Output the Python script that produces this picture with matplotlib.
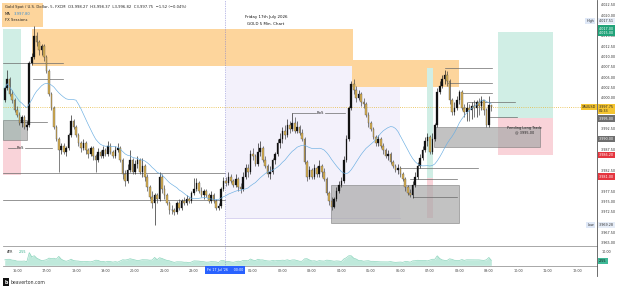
import numpy as np
import pandas as pd
import matplotlib
matplotlib.use("Agg")
import matplotlib.pyplot as plt
from matplotlib.patches import Rectangle
from matplotlib.lines import Line2D

# --- 5 dakikalık XAUUSD mumları (bar 0 = 16:00, 22:00-23:00 arası piyasa kapalı) ---
bar_start = -5
first_open = 3999.5
closes = [
    4002.4, 4004.5, 4001, 3999.5, 3997, 3996, 3994, 3995.5, 3993, 3993.5,
    4008.5, 4010, 4015, 4013.5, 4011.5, 4012.5, 4010, 4006.5, 4001, 3997.5,
    3993, 3990, 3987.5, 3988.5, 3987, 3988, 3991, 3994.5, 3993, 3991,
    3989, 3988, 3989, 3987.5, 3986.5, 3988, 3986, 3985, 3987, 3986,
    3987.5, 3986.5, 3988.5, 3987, 3986, 3987.5, 3988, 3985, 3981.5, 3980,
    3982.5, 3985, 3982, 3984, 3985, 3982, 3983.5, 3981, 3978.5, 3976,
    3974.5, 3976.5, 3975.5, 3981, 3978, 3976.5, 3974.5, 3973, 3972.8, 3972.5,
    3974.5, 3973.5, 3975, 3974.5, 3975.5, 3975, 3977, 3978, 3979.5, 3977.5,
    3976.5, 3977.5, 3976.5, 3975, 3976.5, 3975, 3973.5, 3973.8, 3978, 3980,
    3979.5, 3981, 3980, 3979, 3980.5, 3978.5, 3978, 3981, 3983, 3982,
    3986.5, 3986, 3984, 3987, 3988, 3985, 3983.5, 3981.5, 3982, 3985,
    3986.5, 3989, 3990, 3992, 3991, 3993.5, 3992.5, 3994, 3992, 3993,
    3991.5, 3990, 3984.5, 3981, 3982.5, 3981, 3983, 3981.5, 3983.5, 3982,
    3980.5, 3977, 3975, 3973.6, 3975.5, 3977.5, 3979, 3980, 3985, 3990,
    3997.5, 4003.5, 4002, 4000, 4001, 3999, 3998.5, 3996, 3994, 3992.5,
    3990.5, 3989, 3990, 3988.5, 3987.5, 3986, 3986.5, 3984.5, 3983.5, 3982.5,
    3983, 3981.5, 3980.5, 3978.5, 3977, 3976.5, 3979, 3981, 3983.5, 3985.5,
    3987.5, 3989.5, 3990.5, 3987, 3990, 3993.5, 4001.5, 4003, 4004.5, 4005.5,
    4004, 3999.5, 3996.5, 3997.5, 3999.5, 4001.5, 3997.5, 3996.5, 3997.5, 3997,
    3998, 3997.5, 3999, 3998, 3999.5, 3997, 3993.5, 3998.27, 3997.75,
]
highs = [
    4003, 4006.8, 4005, 4002, 4000, 3998, 3996.5, 3996, 3995.8, 3994.5,
    4009, 4011, 4017.51, 4016, 4014, 4013, 4013, 4010.5, 4007, 4001.5,
    3998, 3993.5, 3990.5, 3989, 3989, 3988.5, 3991.5, 3996, 3995, 3993.5,
    3991.5, 3989.5, 3990, 3989.5, 3988, 3988.5, 3988.5, 3986.5, 3988, 3987.5,
    3988.5, 3988, 3989.5, 3989, 3987.5, 3988.5, 3989, 3988.5, 3985.5, 3982.5,
    3984, 3987.5, 3985.5, 3985, 3986, 3985.5, 3985.5, 3984, 3981.5, 3979,
    3977.5, 3977, 3977, 3982, 3981.5, 3979, 3977, 3975, 3974, 3973.5,
    3975, 3975.5, 3975.5, 3976, 3976.5, 3976, 3977.5, 3980.6, 3980.6, 3980,
    3978.5, 3978, 3978, 3977, 3977.5, 3977, 3975.5, 3974.5, 3978.5, 3981,
    3981, 3982, 3981.5, 3980.5, 3981.5, 3981, 3979.5, 3982, 3984, 3984,
    3987.5, 3988, 3986.5, 3989, 3989.5, 3988.5, 3986, 3984, 3983.5, 3985.5,
    3987, 3990, 3991.5, 3993, 3993.5, 3995, 3994.5, 3996.4, 3995.5, 3994.5,
    3993.5, 3992.5, 3990.5, 3985, 3983.5, 3983, 3984, 3983.5, 3985, 3984,
    3983, 3981, 3977.5, 3976, 3976, 3978.5, 3980, 3981, 3986, 3991,
    3998, 4004, 4004.5, 4003, 4002, 4001.5, 4000, 3999, 3996.5, 3994.5,
    3993, 3991, 3991, 3990.5, 3989, 3988, 3987.5, 3987, 3985, 3984,
    3984, 3983.5, 3982, 3981, 3979, 3978, 3980, 3982, 3984.5, 3986.5,
    3988.5, 3990.5, 3991.5, 3991, 3991.5, 3994, 4002.5, 4004, 4005.5, 4006.8,
    4006.5, 4004.5, 4000, 3999, 4000.5, 4002, 4002, 3998.5, 3999, 3998.5,
    3999, 3999.5, 3999.5, 4000, 4000.5, 3999.5, 3997.5, 4000.5, 3998.37,
]
lows = [
    3999, 4002, 4000.5, 3998.8, 3996.5, 3995.5, 3993.5, 3993, 3992.5, 3992.3,
    3993, 4008, 4009.5, 4012.5, 4010.5, 4010.5, 4009, 4006, 4000.5, 3997,
    3992.5, 3989.5, 3982, 3986.5, 3986.5, 3986, 3987.5, 3990.5, 3992.5, 3990.5,
    3988.5, 3987, 3987.5, 3986.5, 3985.5, 3986, 3985, 3982, 3984.5, 3985.5,
    3985.5, 3986, 3986, 3986.5, 3985.5, 3985.5, 3987, 3984.5, 3980.5, 3978.8,
    3979.5, 3982, 3981.5, 3981.5, 3983, 3981.5, 3981, 3980, 3977.5, 3975.5,
    3973.5, 3969.28, 3974.5, 3975, 3977, 3975.5, 3974, 3972, 3972, 3971.8,
    3972, 3973, 3973, 3974, 3974.2, 3974.5, 3974.5, 3976.5, 3977.5, 3977,
    3976, 3975.5, 3976, 3974.5, 3974.5, 3974.5, 3973, 3973, 3973.5, 3977.5,
    3978.8, 3979, 3979.5, 3978.5, 3978.5, 3977.5, 3977, 3977.5, 3980.5, 3981,
    3981.5, 3985, 3983.5, 3983.5, 3986, 3984.5, 3983, 3981, 3980.5, 3981.5,
    3984, 3986, 3988, 3989, 3990, 3990.5, 3991.5, 3992, 3991.5, 3991.5,
    3991, 3989.5, 3984, 3980, 3980.5, 3980.5, 3980.5, 3981, 3981, 3981,
    3980, 3976.5, 3974, 3973, 3973.3, 3975, 3977, 3978.5, 3979.5, 3984.5,
    3989.5, 3997, 4001, 3999, 3999.5, 3998, 3997.5, 3995.5, 3993, 3992,
    3990, 3988.5, 3988.5, 3988, 3986.5, 3985.5, 3985, 3984, 3983, 3982,
    3981.5, 3981, 3980, 3977.5, 3976.5, 3976, 3975.8, 3978.5, 3980.5, 3983,
    3985, 3987, 3988.5, 3986.5, 3986.5, 3989.5, 3993, 4001, 4002.5, 4003.5,
    4003, 3998.5, 3996, 3996, 3997, 3998.5, 3997, 3995.5, 3994.5, 3994.5,
    3995, 3995.5, 3995.5, 3996, 3997, 3996, 3993, 3993, 3996.82,
]

# 00:00 etiketi mavi tarih kutusunda yazılı
hour_ticks = [0, 12, 24, 36, 48, 60, 72, 96, 108, 120, 132, 144, 156,
              168, 180, 192, 204, 216, 228]
hour_labels = ['16:00', '17:00', '18:00', '19:00', '20:00', '21:00', '23:00',
               '01:00', '02:00', '03:00', '04:00', '05:00', '06:00',
               '07:00', '08:00', '09:00', '10:00', '11:00', '12:00']
session_bar = 84.6

# çizim bölgeleri: (başlangıç bar, bitiş bar, alt fiyat, üst fiyat)
orange_zones = [(6.1, 136.7, 4007.7, 4016.7), (136.3, 179.8, 4002.7, 4009.2)]
lavender_zones = [(85.0, 155.8, 3970.9, 4008.7)]
teal_zones = [(-5.7, 1.6, 3989.8, 4016.7), (166.8, 169.2, 3980.6, 4007.3),
              (195.7, 218.1, 3995.2, 4016.0)]
pink_zones = [(-5.7, 1.6, 3981.4, 3989.8), (166.8, 169.2, 3970.9, 3980.6),
              (195.7, 218.1, 3986.2, 3995.2)]
gray_zones = [(-5.7, 4.1, 3989.8, 3994.7), (127.7, 179.8, 3969.7, 3979.0),
              (169.6, 212.8, 3988.1, 3993.0)]
# yatay seviyeler: (başlangıç bar, bitiş bar, fiyat)
level_lines = [(-5.7, 18.7, 4008.5), (6.5, 18.7, 4004.6), (1.2, 12.2, 3994.2),
               (-3.7, -0.6, 3987.9), (3.3, 14.2, 3987.9),
               (-5.7, 84.6, 3981.8), (-5.7, 84.6, 3975.3),
               (111.9, 121.5, 3996.4), (125.5, 133.4, 3996.4),
               (155.8, 187.6, 3983.0), (159.9, 179.0, 3980.4), (161.1, 179.0, 3976.0),
               (174.1, 193.2, 4007.3), (175.3, 193.2, 4003.6), (181.0, 193.2, 4001.2),
               (183.5, 202.6, 3999.0), (192.4, 203.4, 3995.4)]
bos_labels = [(1.3, 3987.9), (123.5, 3996.4)]
last_price = 3997.75
ma_len = 20

# sağ eksendeki fiyat kutuları: (fiyat, metin, zemin, yazı rengi)
price_tags = [
    (4018.7, '4,017.51', '#e6edf8', '#333333'),
    (4016.3, '4,017.00\n4,015.00', '#22a37a', 'white'),
    (3995.0, '3,995.00', '#6e6e6e', 'white'),
    (3990.0, '3,990.00', '#6e6e6e', 'white'),
    (3986.2, '3,986.20', '#e5363f', 'white'),
    (3981.0, '3,981.00', '#e5363f', 'white'),
    (3969.28, '3,969.28', '#e6edf8', '#333333'),
    (3997.3, '3,997.75\n01:33', '#f5c531', '#222222'),
]

W, H = 625, 288
def fx(px):
    return px / W
def fy(py):
    return 1 - py / H

fig = plt.figure(figsize=(W / 100, H / 100), dpi=100)
fig.patch.set_facecolor('white')
ax = fig.add_axes([fx(3), fy(246), 594 / W, 246 / H])
ax2 = fig.add_axes([fx(3), fy(266), 594 / W, 20 / H], sharex=ax)

x = np.arange(bar_start, bar_start + len(closes))
c = np.array(closes)
o = np.r_[first_open, c[:-1]]
h = np.maximum(np.array(highs), np.maximum(o, c))
l = np.minimum(np.array(lows), np.minimum(o, c))

def box(a, z, fc, alpha=1.0, ec='none', lw=0, zo=1):
    a.add_patch(Rectangle((z[0], z[2]), z[1] - z[0], z[3] - z[2], fc=fc, ec=ec,
                          lw=lw, alpha=alpha, zorder=zo))

for z in lavender_zones:
    box(ax, z, '#f3f1fb', zo=0.5)
    ax.plot([z[0], z[1]], [z[2], z[2]], color='#c9c2ea', lw=0.5, zorder=0.6)
for z in orange_zones:
    box(ax, z, '#fdd59c', zo=1)
for z in teal_zones:
    box(ax, z, '#d0eee5', zo=1)
for z in pink_zones:
    box(ax, z, '#f9d3d9', zo=1)
for z in gray_zones:
    box(ax, z, '#a9a9a9', alpha=0.7, ec='#6f6f6f', lw=0.5, zo=1.5)

for x0, x1, p in level_lines:
    ax.plot([x0, x1], [p, p], color='#6a6a6a', lw=0.5, zorder=2)
for bx, bp in bos_labels:
    ax.text(bx, bp, 'BoS', fontsize=2.7, ha='center', va='center', color='#222', zorder=6)

ax.axhline(last_price, color='#e6b93c', lw=0.6, ls=(0, (1, 1.6)), zorder=2)
for a in (ax, ax2):
    a.axvline(session_bar, color='#7c7cd0', lw=0.5, ls=(0, (1, 1.5)), zorder=2)

# mumlar
up = c >= o
body_lo = np.minimum(o, c)
body_h = np.maximum(np.abs(c - o), 0.12)
ax.vlines(x[up], l[up], h[up], color='#111111', lw=0.45, zorder=3)
ax.vlines(x[~up], l[~up], h[~up], color='#3c3c3c', lw=0.45, zorder=3)
ax.bar(x[up], body_h[up], bottom=body_lo[up], width=0.66, color='#111111',
       edgecolor='#111111', lw=0.2, zorder=4)
ax.bar(x[~up], body_h[~up], bottom=body_lo[~up], width=0.66, color='#dbb150',
       edgecolor='#4a4a4a', lw=0.25, zorder=4)

ma = pd.Series(c).rolling(ma_len, min_periods=1).mean()
ax.plot(x, ma, color='#6aaee2', lw=0.45, zorder=5)

# ATR paneli
tr = np.maximum(h - l, np.maximum(np.abs(h - o), np.abs(l - o)))
atr = pd.Series(tr).ewm(alpha=0.5, adjust=False).mean()
ax2.fill_between(x, 0, atr, color='#bfe9db', lw=0, zorder=1)
ax2.plot(x, atr, color='#8dd5bd', lw=0.5, zorder=2)

ax.set_xlim(-5.7, 236.0)
ax.set_ylim(3964.2, 4023.7)
ax2.set_ylim(-0.5, 14.2)

# kutuların altında kalan eksen etiketleri yazılmaz
yt = [v for v in np.arange(3965, 4022.6, 2.5)
      if min(abs(v - t[0]) for t in price_tags) > 1.2]
ax.yaxis.tick_right()
ax.set_yticks(yt)
ax.set_yticklabels([f'{v:,.2f}' for v in yt])
ax.tick_params(axis='y', length=0, pad=3, labelsize=2.4, labelcolor='#333333')
ax.tick_params(axis='x', bottom=False, labelbottom=False)

ax2.yaxis.tick_right()
ax2.set_yticks([10])
ax2.set_yticklabels(['10.00'])
ax2.tick_params(axis='y', length=0, pad=3, labelsize=2.4, labelcolor='#333333')
ax2.set_xticks(hour_ticks)
ax2.set_xticklabels(hour_labels)
ax2.tick_params(axis='x', length=0, pad=2.2, labelsize=2.4, labelcolor='#444444')

for a in (ax, ax2):
    a.spines['left'].set_visible(False)
    a.spines['top'].set_visible(False)
    a.spines['right'].set_color('#555555')
    a.spines['right'].set_linewidth(0.6)
    a.spines['bottom'].set_color('#9a9a9a')
    a.spines['bottom'].set_linewidth(0.6)
    a.set_facecolor('none')
fig.add_artist(Line2D([fx(597), fx(597)], [fy(266), fy(276)], color='#555555', lw=0.6))

# fiyat etiketleri
ytr = ax.get_yaxis_transform()
def tag(p, text, bg, fg='white', xpos=1.0035, ha='left'):
    ax.text(xpos, p, text, transform=ytr, ha=ha, va='center', fontsize=2.4, color=fg,
            linespacing=1.0, clip_on=False, zorder=10,
            bbox=dict(boxstyle='square,pad=0.35', fc=bg, ec='none'))

for p, t, bg, fg in price_tags:
    tag(p, t, bg, fg)
tag(4018.7, 'High', '#dfe8f7', fg='#333333', xpos=0.995, ha='right')
tag(3969.28, 'Low', '#dfe8f7', fg='#333333', xpos=0.995, ha='right')
tag(last_price, 'XAUUSD', '#f5c531', fg='#222222', xpos=0.9985, ha='right')

ax2.text(1.0035, 3.2, '2.55', transform=ax2.get_yaxis_transform(), ha='left',
         va='center', fontsize=2.4, color='#111111', clip_on=False, zorder=10,
         bbox=dict(boxstyle='square,pad=0.35', fc='#3fb997', ec='none'))
ax2.text(0.007, 0.72, 'ATR', transform=ax2.transAxes, fontsize=2.4, color='#333333',
         va='center')
ax2.text(0.026, 0.72, '2.55', transform=ax2.transAxes, fontsize=2.4, color='#2aa883',
         va='center')
ax2.text(session_bar, -0.2, "Fri 17 Jul '26     00:00", transform=ax2.get_xaxis_transform(),
         ha='center', va='center', fontsize=2.4, color='white', clip_on=False, zorder=10,
         bbox=dict(boxstyle='square,pad=0.6', fc='#2962ff', ec='none'))

ax.text(206.5, 3992.2, 'Pending Long Trade\n@ 3995.00', fontsize=2.5, ha='center',
        va='center', color='#222222', linespacing=1.2, zorder=6)

# başlık ve bilgi kutusu
fig.add_artist(Rectangle((fx(2), fy(27)), 41 / W, 24 / H, transform=fig.transFigure,
                         fc='#fdd59c', ec='none', zorder=0))
fig.text(fx(5), fy(7), 'Gold Spot / U.S. Dollar, 5, FXCM  O3,998.27  H3,998.37  '
         'L3,996.82  C3,997.75  −1.52 (−0.04%)', fontsize=2.7, color='#222222', va='center')
fig.text(fx(5), fy(14), 'MA', fontsize=2.7, color='#222222', va='center')
fig.text(fx(14), fy(14), '3,997.80', fontsize=2.7, color='#3d8fd1', va='center')
fig.text(fx(5), fy(20), 'FX Sessions', fontsize=2.7, color='#222222', va='center')
fig.text(fx(266), fy(17), 'Friday 17th July 2026', fontsize=2.9, color='#111111',
         ha='center', va='center')
fig.text(fx(266), fy(24), 'GOLD 5 Min. Chart', fontsize=2.9, color='#111111',
         ha='center', va='center')

fig.text(fx(6), fy(282), 'b', fontsize=3.4, color='white', weight='bold', ha='center',
         va='center', bbox=dict(boxstyle='square,pad=0.3', fc='#111111', ec='none'))
fig.text(fx(11), fy(282), 'beaverton.com', fontsize=3.3, color='#333333', va='center')

fig.savefig('out.png', dpi=100)
